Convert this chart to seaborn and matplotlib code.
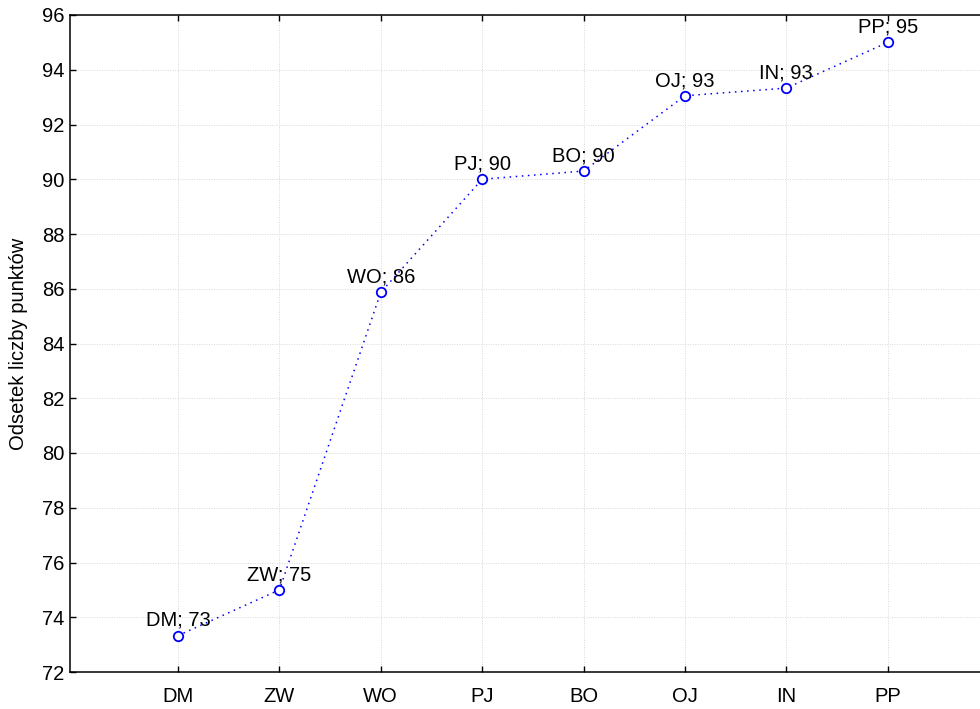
import numpy as np
import pandas as pd
import matplotlib
matplotlib.use("Agg")
import matplotlib.pyplot as plt
import seaborn as sns

categories = ["DM", "ZW", "WO", "PJ", "BO", "OJ", "IN", "PP"]
values     = [73.33, 75.0, 85.87, 90.0, 90.3, 93.05, 93.33, 95.0]
y_ticks    = list(range(72, 97, 2))

df = pd.DataFrame({"cat": categories, "val": values})

sns.set_theme(style="white")
plt.rcParams["font.family"] = ["Liberation Sans", "DejaVu Sans"]

fig = plt.figure(figsize=(9.8, 7.09), dpi=100)
ax = fig.add_axes([70/980, 37/709, 1 - 70/980, 657/709])

sns.lineplot(data=df, x="cat", y="val", sort=False, ax=ax,
             color="blue", linestyle=(0, (1, 3)), linewidth=1.1,
             marker="o", markersize=6.8, markerfacecolor="white",
             markeredgecolor="blue", markeredgewidth=1.3)

for i, (c, v) in enumerate(zip(categories, values)):
    ax.annotate(f"{c}; {round(v)}", (i, v), xytext=(0, 7),
                textcoords="offset points", ha="center", va="baseline",
                fontsize=14.5, color="black")

ax.set_xlim(-1.065, 7.91)
ax.set_ylim(72, 96)
ax.set_yticks(y_ticks)
ax.set_xlabel("")
ax.set_ylabel("Odsetek liczby punktów", fontsize=14.5, labelpad=10,
              color="black")
ax.grid(True, color="#d8d8d8", linestyle=(0, (1, 1.5)), linewidth=0.7)
ax.tick_params(direction="in", length=4, width=1, labelsize=14.5,
               top=True, left=True, bottom=True, colors="black", pad=4)
ax.tick_params(axis="x", labeltop=False, pad=11)
for s in ["left", "bottom", "top"]:
    ax.spines[s].set_color("black")
    ax.spines[s].set_linewidth(1.1)
ax.spines["right"].set_visible(False)

plt.savefig("out.png", dpi=100)
